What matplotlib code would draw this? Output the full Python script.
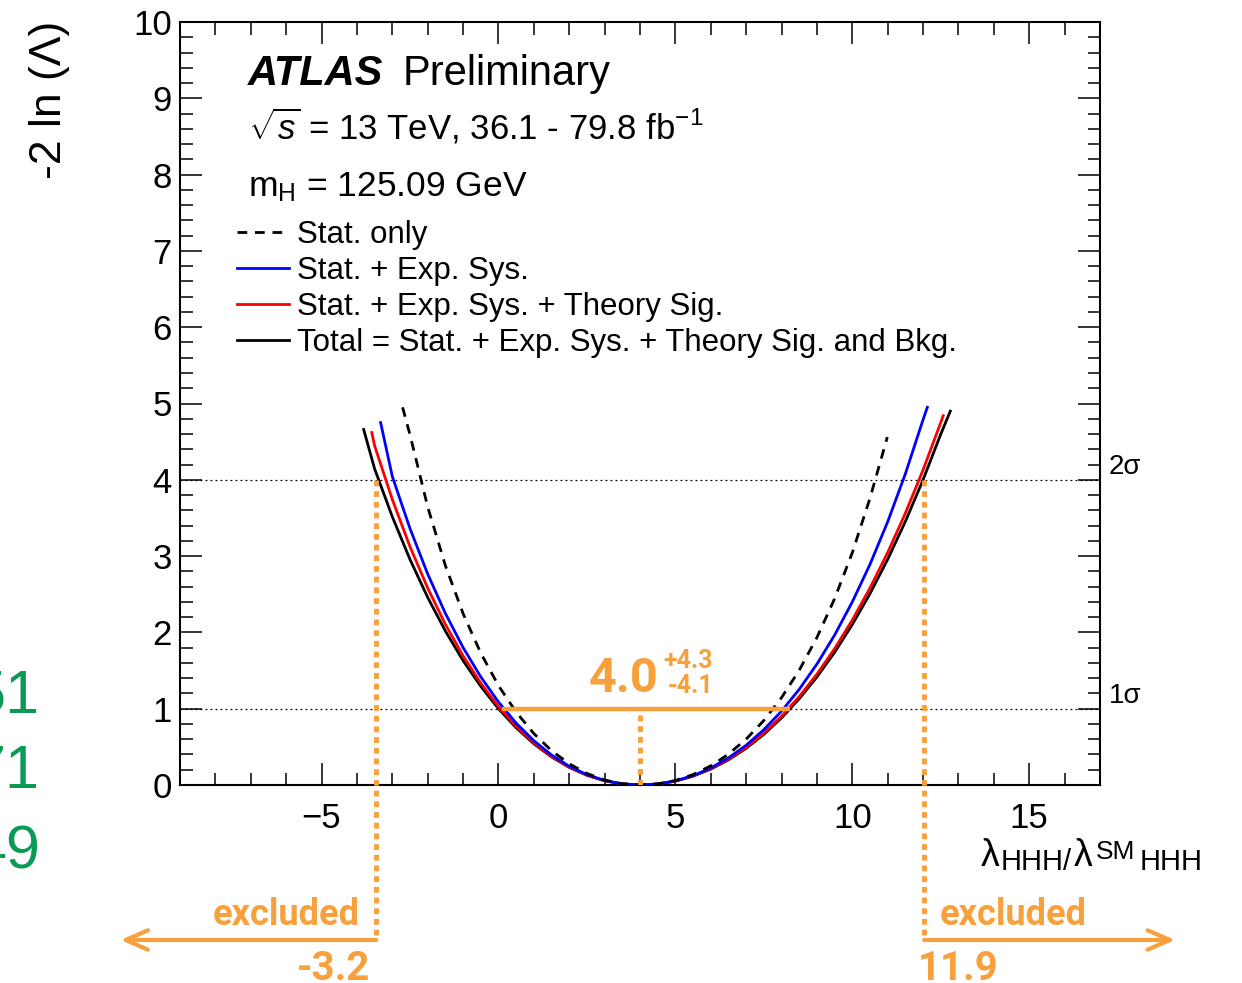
import matplotlib
matplotlib.use("Agg")
import matplotlib.pyplot as plt
from matplotlib.lines import Line2D

# ---------------- data ----------------
x_total = [-3.81, -3.5, -3.0, -2.5, -2.0, -1.5, -1.0, -0.5, 0.0, 0.5, 1.0, 1.5, 2.0, 2.5, 3.0, 3.5,
           4.0, 4.5, 5.0, 5.5, 6.0, 6.5, 7.0, 7.5, 8.0, 8.5, 9.0, 9.5, 10.0, 10.5, 11.0, 11.5, 12.0, 12.5, 12.77]
y_total = [4.66, 4.144, 3.516, 2.956, 2.458, 2.018, 1.630, 1.293, 1.0, 0.750, 0.540, 0.368, 0.231, 0.128, 0.056, 0.014,
           0.0, 0.0125, 0.051, 0.116, 0.208, 0.329, 0.481, 0.664, 0.879, 1.130, 1.416, 1.739, 2.103, 2.508, 2.958, 3.454, 4.0, 4.598, 4.90]

x_theory_sig = [-3.58, -3.5, -3.0, -2.5, -2.0, -1.5, -1.0, -0.5, 0.0, 0.5, 1.0, 1.5, 2.0, 2.5, 3.0, 3.5,
                4.0, 4.5, 5.0, 5.5, 6.0, 6.5, 7.0, 7.5, 8.0, 8.5, 9.0, 9.5, 10.0, 10.5, 11.0, 11.5, 12.0, 12.5, 12.57]
y_theory_sig = [4.62, 4.447, 3.743, 3.124, 2.581, 2.106, 1.693, 1.335, 1.028, 0.768, 0.551, 0.374, 0.234, 0.129, 0.056, 0.014,
                0.0, 0.013, 0.052, 0.118, 0.213, 0.337, 0.492, 0.680, 0.901, 1.159, 1.453, 1.787, 2.163, 2.582, 3.047, 3.563, 4.130, 4.752, 4.84]

x_exp_sys = [-3.33, -3.0, -2.5, -2.0, -1.5, -1.0, -0.5, 0.0, 0.5, 1.0, 1.5, 2.0, 2.5, 3.0, 3.5,
             4.0, 4.5, 5.0, 5.5, 6.0, 6.5, 7.0, 7.5, 8.0, 8.5, 9.0, 9.5, 10.0, 10.5, 11.0, 11.5, 12.0, 12.12]
y_exp_sys = [4.75, 4.044, 3.361, 2.766, 2.249, 1.802, 1.417, 1.088, 0.811, 0.581, 0.393, 0.246, 0.135, 0.059, 0.014,
             0.0, 0.013, 0.054, 0.123, 0.223, 0.355, 0.521, 0.725, 0.968, 1.254, 1.585, 1.965, 2.400, 2.892, 3.450, 4.079, 4.788, 4.95]

x_stat = [-2.71, -2.5, -2.0, -1.5, -1.0, -0.5, 0.0, 0.5, 1.0, 1.5, 2.0, 2.5, 3.0, 3.5,
          4.0, 4.5, 5.0, 5.5, 6.0, 6.5, 7.0, 7.5, 8.0, 8.5, 9.0, 9.5, 10.0, 10.5, 10.99]
y_stat = [4.95, 4.59, 3.645, 2.876, 2.247, 1.729, 1.303, 0.955, 0.674, 0.450, 0.278, 0.151, 0.065, 0.016,
          0.0, 0.014, 0.059, 0.137, 0.251, 0.404, 0.601, 0.846, 1.145, 1.504, 1.933, 2.442, 3.045, 3.760, 4.56]

legend_labels = ["Stat. only", "Stat. + Exp. Sys.", "Stat. + Exp. Sys. + Theory Sig.",
                 "Total = Stat. + Exp. Sys. + Theory Sig. and Bkg."]

sigma_levels = [1, 4]
sigma_labels = ["1σ", "2σ"]

best_fit = 4.0
interval_1sigma = [0.1, 8.25]
excl_low, excl_high = -3.45, 12.03
excl_low_label, excl_high_label = "-3.2", "11.9"
green_labels = ["51", "71", "49"]

x_ticks = [-5, 0, 5, 10, 15]
y_ticks = list(range(0, 11))

# ---------------- style ----------------
plt.rcParams['font.family'] = ['Liberation Sans', 'DejaVu Sans']
plt.rcParams['mathtext.fontset'] = 'custom'
plt.rcParams['mathtext.rm'] = 'Liberation Sans'
plt.rcParams['mathtext.it'] = 'Liberation Sans:italic'
plt.rcParams['mathtext.bf'] = 'Liberation Sans:bold'
plt.rcParams['mathtext.sf'] = 'Liberation Sans'

ORANGE = '#F7A03C'
GREEN = '#0A9A55'
W, H = 1242, 983

fig = plt.figure(figsize=(W / 100, H / 100), dpi=100)
ax = fig.add_axes([180 / W, 1 - 785 / H, 920 / W, 763 / H])

def fx(px):
    return px / W

def fy(py):
    return 1 - py / H

# curves
ax.plot(x_total, y_total, color='black', lw=2.0, zorder=3)
ax.plot(x_theory_sig, y_theory_sig, color='#FF0000', lw=2.0, zorder=4)
ax.plot(x_exp_sys, y_exp_sys, color='#0000FF', lw=2.0, zorder=5)
ax.plot(x_stat, y_stat, color='black', lw=2.0, ls=(0, (3.5, 2.8)), zorder=6)

# sigma lines
for lev, lab in zip(sigma_levels, sigma_labels):
    ax.axhline(lev, color='black', lw=0.9, ls=(0, (1.5, 2.5)), zorder=2)
    ax.text(1.0095, lev, lab, transform=ax.get_yaxis_transform(), fontsize=20,
            ha='left', va='bottom')

ax.set_xlim(-9, 17)
ax.set_ylim(0, 10)
ax.set_xticks(x_ticks)
ax.set_yticks(y_ticks)
ax.set_xticks(range(-9, 18), minor=True)
ax.set_yticks([i * 0.2 for i in range(0, 51)], minor=True)
ax.tick_params(which='both', direction='in', top=True, right=True, width=1.1)
ax.tick_params(which='major', length=16, labelsize=25)
ax.tick_params(which='minor', length=9)
ax.tick_params(axis='x', which='major', pad=12)
ax.tick_params(axis='y', which='major', pad=6)
for s in ax.spines.values():
    s.set_linewidth(1.5)

# legend
handles = [Line2D([], [], color='black', lw=2, ls=(0, (3.5, 2.8))),
           Line2D([], [], color='#0000FF', lw=2),
           Line2D([], [], color='#FF0000', lw=2),
           Line2D([], [], color='black', lw=2)]
ax.legend(handles, legend_labels, loc='upper left', bbox_to_anchor=(fx(237), fy(220)),
          bbox_transform=fig.transFigure, frameon=False, fontsize=22.5, handlelength=1.68,
          handletextpad=0.25, labelspacing=0.19, borderpad=0, borderaxespad=0)

# header texts
fig.text(fx(248), fy(85), 'ATLAS', fontsize=30, fontweight='bold', fontstyle='italic', va='baseline')
fig.text(fx(403), fy(85), 'Preliminary', fontsize=30, va='baseline')
fig.text(fx(248), fy(139), r'$\sqrt{s}$ = 13 TeV, 36.1 - 79.8 fb$^{-1}$', fontsize=25, va='baseline')
fig.text(fx(248), fy(196), r'm$_{\mathrm{H}}$ = 125.09 GeV', fontsize=25.5, va='baseline')

# axis labels
fig.text(fx(50), fy(100), '-2 ln (Λ)', fontsize=32, rotation=90, ha='center', va='center')
# x label built ROOT-style: λ_{HHH/} λ^{SM}_{HHH} with sub/superscripts side by side
xlabel_parts = [("λ", 981, 866, 27), ("HHH/", 1001, 870, 21), ("λ", 1074, 866, 27),
                ("SM", 1096, 859, 19), ("HHH", 1140, 870, 21)]
for txt, px, py, fs in xlabel_parts:
    fig.text(fx(px), fy(py), txt, fontsize=fs, ha='left', va='baseline')

# orange annotations
ax.plot(interval_1sigma, [1, 1], color=ORANGE, lw=3.2, solid_capstyle='butt', zorder=7)
ax.plot([best_fit, best_fit], [0, 1], color=ORANGE, lw=3.5, ls=(0, (1.2, 1.0)), zorder=7)
y_arrow = (785 - 940) / 76.3
for xv in (excl_low, excl_high):
    ax.plot([xv, xv], [4, y_arrow], color=ORANGE, lw=3.5, ls=(0, (1.2, 1.0)), zorder=7, clip_on=False)
arrow_kw = dict(arrowstyle='->,head_length=0.8,head_width=0.35', color=ORANGE, lw=3,
                mutation_scale=20, shrinkA=0, shrinkB=0)
ax.annotate('', xy=(-10.68, y_arrow), xytext=(excl_low, y_arrow), arrowprops=arrow_kw,
            annotation_clip=False)
ax.annotate('', xy=(19.12, y_arrow), xytext=(excl_high, y_arrow), arrowprops=arrow_kw,
            annotation_clip=False)

ofont = dict(family=['Roboto', 'DejaVu Sans'], fontweight='bold', color=ORANGE)
fig.text(fx(360), fy(925), 'excluded', fontsize=26, ha='right', va='baseline', **ofont)
fig.text(fx(940), fy(925), 'excluded', fontsize=26, ha='left', va='baseline', **ofont)
fig.text(fx(333), fy(950), excl_low_label, fontsize=29, ha='center', va='top', **ofont)
fig.text(fx(958), fy(950), excl_high_label, fontsize=29, ha='center', va='top', **ofont)
fig.text(fx(589), fy(692), f'{best_fit:.1f}', fontsize=35, ha='left', va='baseline', **ofont)
fig.text(fx(663), fy(668), '+4.3', fontsize=18, ha='left', va='baseline', **ofont)
fig.text(fx(668), fy(693), '-4.1', fontsize=18, ha='left', va='baseline', **ofont)

# partially cut green numbers at the left edge
for lab, yc in zip(green_labels, [697, 773, 853]):
    fig.text(fx(40), fy(yc), lab, fontsize=44, color=GREEN, ha='right', va='center')

fig.savefig('out.png', dpi=100)
